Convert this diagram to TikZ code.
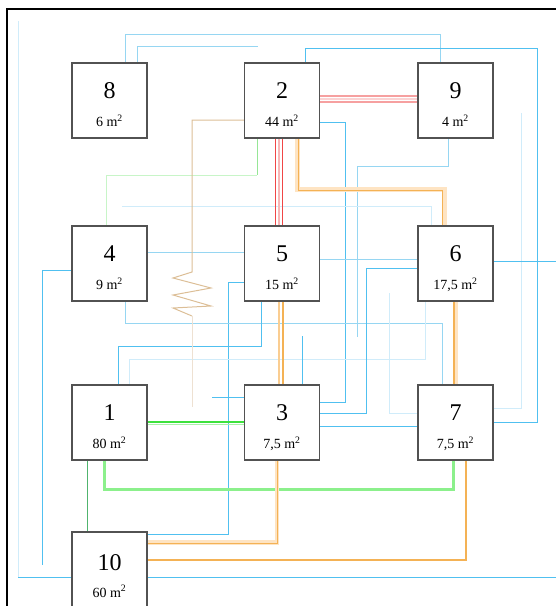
\documentclass[tikz,border=0pt]{standalone}
\usepackage{fontspec}
\setmainfont{Liberation Serif}
\usetikzlibrary{backgrounds}

% pipe colours
\definecolor{blueA}{RGB}{80,192,240}
\definecolor{blueB}{RGB}{150,214,242}
\definecolor{blueC}{RGB}{208,236,250}
\definecolor{redline}{RGB}{240,70,70}
\definecolor{redpale}{RGB}{248,182,182}
\definecolor{redsoft}{RGB}{246,160,160}
\definecolor{orgdark}{RGB}{244,178,85}
\definecolor{orglight}{RGB}{254,228,195}
\definecolor{orgmid}{RGB}{250,205,145}
\definecolor{grnbright}{RGB}{60,225,60}
\definecolor{grnlight}{RGB}{170,240,170}
\definecolor{grnthick}{RGB}{140,240,140}
\definecolor{grndark}{RGB}{80,180,110}
\definecolor{grnfaint}{RGB}{200,245,200}
\definecolor{grnsoft}{RGB}{150,230,150}
\definecolor{tanline}{RGB}{220,190,150}
\definecolor{tanfaint}{RGB}{238,225,210}

\tikzset{
  room/.style={draw=black!68, line width=1.4pt, fill=white, minimum width=75pt,
    inner sep=0pt, outer sep=0pt},
  roomnum/.style={anchor=base, inner sep=0pt, font=\fontsize{24}{24}\selectfont},
  roomarea/.style={anchor=base, inner sep=0pt, font=\fontsize{14}{14}\selectfont},
  pipeA/.style={draw=blueA, line width=1pt},
  pipeB/.style={draw=blueB, line width=1pt},
  pipeC/.style={draw=blueC, line width=1pt},
  redpipe/.style={draw=redline, line width=1.3pt},
  pinkpipe/.style={draw=redpale, line width=1.3pt},
  softred/.style={draw=redsoft, line width=1.5pt},
  orgband/.style={draw=orglight, line width=5pt},
  orgpipe/.style={draw=orgdark, line width=1.1pt},
  orgsoft/.style={draw=orgmid, line width=1.1pt},
  grnpipe/.style={draw=grnbright, line width=1.2pt},
  grnpale/.style={draw=grnlight, line width=1.2pt},
  grnwide/.style={draw=grnthick, line width=3pt},
  grnthin/.style={draw=grndark, line width=1pt},
  grnfine/.style={draw=grnfaint, line width=1pt},
  tanpipe/.style={draw=tanline, line width=1pt},
  tanfade/.style={draw=tanfaint, line width=1pt},
  frame/.style={draw=black, line width=2.2pt}
}

% #1 name, #2 centre x, #3 top, #4 height, #5/#6 baseline offsets, #7 number, #8 area
\newcommand\placeroom[8]{%
  \node[room, minimum height=#4pt] (#1) at (#2,{#3+#4/2}) {};
  \node[roomnum] (#1num) at (#2,{#3+#5}) {#7};
  \node[roomarea] (#1area) at (#2,{#3+#6}) {#8};
}

\begin{document}
\begin{tikzpicture}[x=1pt, y=-1pt]
\useasboundingbox (0,0) rectangle (556,606);

% rooms
\placeroom{n8}{109.5}{63}{75}{35}{63.5}{8}{6 m\textsuperscript{2}}
\placeroom{n2}{282}{63}{75}{35}{63.5}{2}{44 m\textsuperscript{2}}
\placeroom{n9}{455.5}{63}{75}{35}{63.5}{9}{4 m\textsuperscript{2}}
\placeroom{n4}{109.5}{226}{75}{35}{63.5}{4}{9 m\textsuperscript{2}}
\placeroom{n5}{282}{226}{75}{35}{63.5}{5}{15 m\textsuperscript{2}}
\placeroom{n6}{455.5}{226}{75}{35}{63.5}{6}{17,5 m\textsuperscript{2}}
\placeroom{n1}{109.5}{385}{75}{35}{63.5}{1}{80 m\textsuperscript{2}}
\placeroom{n3}{282}{385}{75}{35}{63.5}{3}{7,5 m\textsuperscript{2}}
\placeroom{n7}{455.5}{385}{75}{35}{63.5}{7}{7,5 m\textsuperscript{2}}
\placeroom{n10}{109.5}{532}{80}{38}{65}{10}{60 m\textsuperscript{2}}

% loose pipe ends
\coordinate (e1) at (258,46);
\coordinate (e2) at (521,113);
\coordinate (e3) at (556,261);
\coordinate (e4) at (357,337);
\coordinate (e5) at (122,206);
\coordinate (e6) at (42,565);
\coordinate (e7) at (302,336);
\coordinate (e8) at (389,293);
\coordinate (e9) at (212,397);
\coordinate (e10) at (18,577);
\coordinate (e11) at (556,577);
\coordinate (e12) at (18,21);
\coordinate (e13) at (192,407);

\begin{pgfonlayer}{background}
  % outer wall
  \draw[frame] (556,9) -- (7,9) -- (7,610);

  % blue pipes
  \draw[pipeB] (n8.north -| 125,0) -- (125,34) -- (440,34) -- (n9.north -| 440,0);
  \draw[pipeB] (n8.north -| 137,0) -- (137,46) -- (e1);
  \draw[pipeA] (n2.north -| 305,0) -- (305,48) -- (537,48) -- (537,422) -- (n7.east |- 0,422);
  \draw[pipeC] (n7.east |- 0,408) -- (521,408) -- (e2);
  \draw[pipeA] (n6.east |- 0,261) -- (e3);
  \draw[pipeA] (n2.east |- 0,122) -- (345,122) -- (345,402) -- (n3.east |- 0,402);
  \draw[pipeB] (n9.south -| 448,0) -- (448,166) -- (357,166) -- (e4);
  \draw[pipeC] (e5) -- (431,206) -- (n6.north -| 431,0);
  \draw[pipeB] (n4.east |- 0,252) -- (n5.west |- 0,252);
  \draw[pipeA] (n4.west |- 0,270) -- (42,270) -- (e6);
  \draw[pipeA] (n5.west |- 0,282) -- (228,282) -- (228,534) -- (n10.east |- 0,534);
  \draw[pipeB] (n4.south -| 125,0) -- (125,323) -- (442,323) -- (n7.north -| 442,0);
  \draw[pipeA] (n5.south -| 261,0) -- (261,346) -- (118,346) -- (n1.north -| 118,0);
  \draw[pipeC] (n6.south -| 425,0) -- (425,359) -- (129,359) -- (n1.north -| 129,0);
  \draw[pipeA] (n6.west |- 0,268) -- (366,268) -- (366,413) -- (n3.east |- 0,413);
  \draw[pipeB] (n5.east |- 0,259) -- (n6.west |- 0,259);
  \draw[pipeA] (e7) -- (n3.north -| 302,0);
  \draw[pipeC] (n7.west |- 0,413) -- (389,413) -- (e8);
  \draw[pipeA] (n3.west |- 0,397) -- (e9);
  \draw[pipeA] (n3.east |- 0,426) -- (n7.west |- 0,426);
  \draw[pipeC] (e10) -- (e12);
  \draw[pipeA] (e10) -- (n10.west |- 0,577);
  \draw[pipeA] (n10.east |- 0,577) -- (e11);

  % green pipes
  \draw[grnfine] (106,175) -- (257,175);
  \draw[grnfine] (n4.north -| 106,0) -- (106,175);
  \draw[grnsoft] (n2.south -| 257,0) -- (257,175);
  \draw[grnpale] (n1.east |- 0,424.5) -- (n3.west |- 0,424.5);
  \draw[grnpipe] (n1.east |- 0,422) -- (n3.west |- 0,422);
  \draw[grnwide] (n1.south -| 104,0) -- (104,489) -- (453,489) -- (n7.south -| 453,0);
  \draw[grnthin] (n1.south -| 87,0) -- (n10.north -| 87,0);

  % red pipes
  \draw[redpipe] (n2.south -| 275.7,0) -- (n5.north -| 275.7,0);
  \draw[pinkpipe] (n2.south -| 279,0) -- (n5.north -| 279,0);
  \draw[redpipe] (n2.south -| 282.3,0) -- (n5.north -| 282.3,0);
  \draw[softred] (n2.east |- 0,96) -- (n9.west |- 0,96);
  \draw[pinkpipe, draw=redpale!60] (n2.east |- 0,99) -- (n9.west |- 0,99);
  \draw[softred] (n2.east |- 0,102) -- (n9.west |- 0,102);

  % orange pipes
  \draw[orgband] (n2.south -| 297,0) -- (297,189.5) -- (444.5,189.5) -- (n6.north -| 444.5,0);
  \draw[orgpipe] (n2.south -| 298.5,0) -- (298.5,190.5) -- (442.5,190.5) -- (n6.north -| 442.5,0);
  \draw[orgsoft] (n5.south -| 279,0) -- (n3.north -| 279,0);
  \draw[orgpipe] (n5.south -| 283,0) -- (n3.north -| 283,0);
  \draw[orgband] (n6.south -| 455,0) -- (n7.north -| 455,0);
  \draw[orgpipe] (n6.south -| 454,0) -- (n7.north -| 454,0);
  \draw[orgband, line width=4.5pt] (n3.south -| 277,0) -- (277,542.5) -- (n10.east |- 0,542.5);
  \draw[orgpipe] (n3.south -| 277.5,0) -- (277.5,543.5) -- (n10.east |- 0,543.5);
  \draw[orgband, line width=2.5pt] (n7.south -| 466,0) -- (466,560) -- (n10.east |- 0,560);
  \draw[orgpipe] (n7.south -| 466,0) -- (466,560) -- (n10.east |- 0,560);

  % tan pipe with coil
  \draw[tanpipe] (n2.west |- 0,120) -- (192,120) -- (192,272) -- (173,278) -- (211,288)
    -- (173,295) -- (211,306) -- (173,308) -- (192,316);
  \draw[tanfade] (192,316) -- (e13);
\end{pgfonlayer}
\end{tikzpicture}
\end{document}
